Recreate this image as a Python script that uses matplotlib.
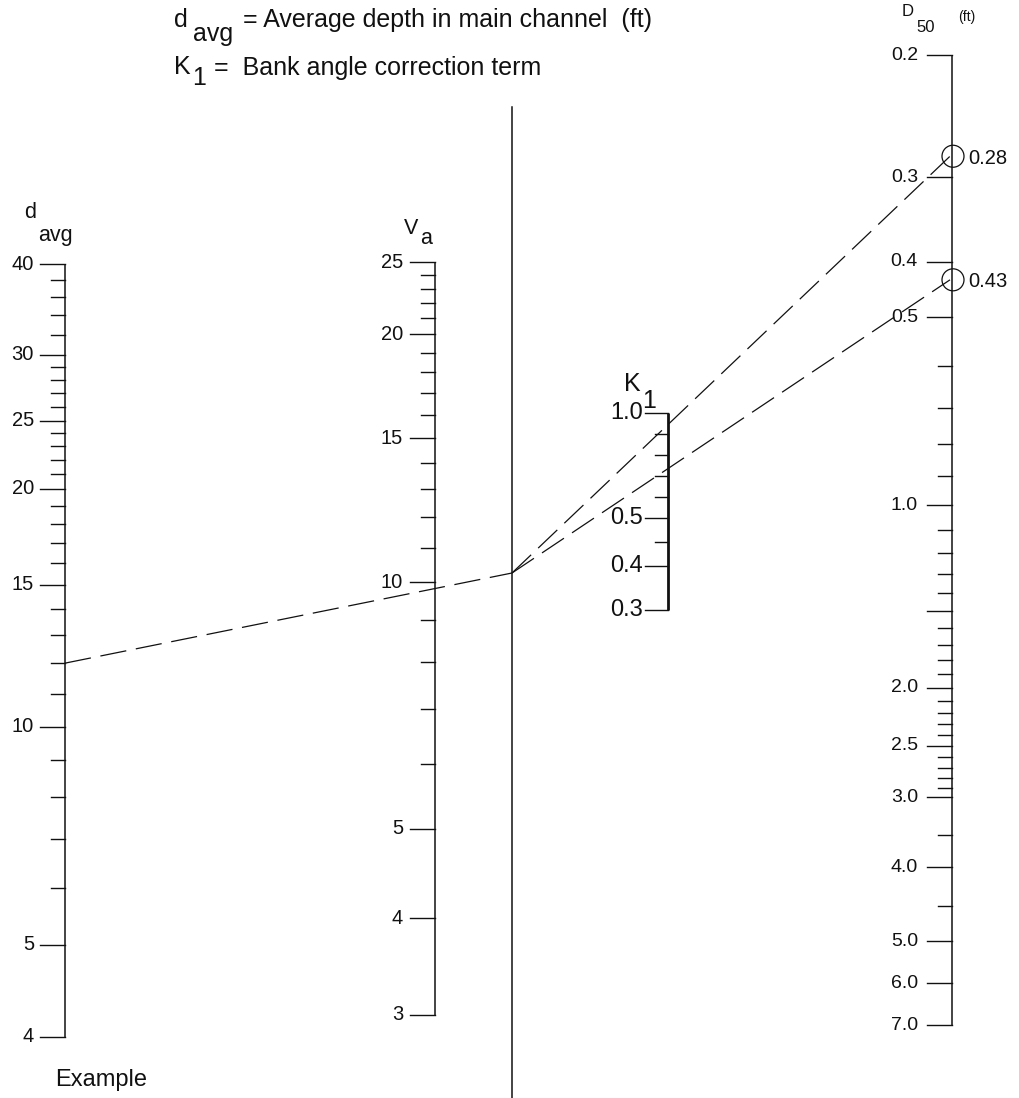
import numpy as np
import matplotlib.pyplot as plt
from matplotlib.patches import Circle

plt.rcParams['font.family'] = ['Liberation Sans', 'DejaVu Sans']
plt.rcParams['lines.scale_dashes'] = False

# --- scale data (values) ---
d_major = [40, 30, 25, 20, 15, 10, 5, 4]
d_minor = [38, 36, 34, 32, 29, 28, 27, 26, 24, 23, 22, 21, 19, 18, 17, 16,
           14, 13, 12, 11, 9, 8, 7, 6]
v_major = [25, 20, 15, 10, 5, 4, 3]
v_minor = [24, 23, 22, 21, 19, 18, 17, 16, 14, 13, 12, 11, 9, 8, 7, 6]
k_major = [1.0, 0.5, 0.4, 0.3]
k_minor = [0.9, 0.8, 0.7, 0.6, 0.45]
D_major = [0.2, 0.3, 0.4, 0.5, 1.0, 1.5, 2.0, 2.5, 3.0, 4.0, 5.0, 6.0, 7.0]
D_labels = ['0.2', '0.3', '0.4', '0.5', '1.0', '', '2.0', '2.5', '3.0', '4.0', '5.0', '6.0', '7.0']
D_minor = [0.6, 0.7, 0.8, 0.9, 1.1, 1.2, 1.3, 1.4, 1.6, 1.7, 1.8, 1.9,
           2.1, 2.2, 2.3, 2.4, 2.6, 2.7, 2.8, 2.9, 3.5, 4.5]

# example solution
ex_d = 12
ex_D50 = [0.28, 0.43]

# --- how each scale is laid out on the sheet (hand-drawn, calibrated) ---
d_pos = [264, 355, 421, 489, 585, 727, 945, 1037]
v_pos = [262, 334, 438, 582, 829, 918, 1015]
k_pos = [413, 518, 566, 610]
D_pos = [55, 177, 262, 317, 505, 611, 688, 746, 797, 867, 941, 983, 1025]
pivot_y = 573


def place(vals, anchors, pos, log=True):
    f = np.log10 if log else (lambda a: np.asarray(a, float))
    a = f(np.asarray(anchors, float))
    p = np.asarray(pos, float)
    order = np.argsort(a)
    return np.interp(f(np.asarray(vals, float)), a[order], p[order])


fig = plt.figure(figsize=(10.2, 10.98), dpi=100)
ax = fig.add_axes([0, 0, 1, 1])
ax.set_xlim(0, 1020)
ax.set_ylim(1098, 0)
ax.axis('off')

col = '#111111'


def draw_scale(x, major, minor, labels, anchors, pos, log=True, lw=1.1,
               fs=14.5, maj_len=25, min_len=14, gap=6):
    ymaj = place(major, anchors, pos, log)
    ymin = place(minor, anchors, pos, log)
    ax.plot([x, x], [ymaj.min(), ymaj.max()], color=col, lw=lw, solid_capstyle='butt')
    for y, lab in zip(ymaj, labels):
        ax.plot([x - maj_len, x], [y, y], color=col, lw=1.0)
        if lab:
            ax.text(x - maj_len - gap, y, lab, ha='right', va='center', fontsize=fs, color=col)
    for y in ymin:
        ax.plot([x - min_len, x], [y, y], color=col, lw=1.0)


draw_scale(65, d_major, d_minor, [str(v) for v in d_major], d_major, d_pos, gap=6)
draw_scale(435, v_major, v_minor, [str(v) for v in v_major], v_major, v_pos, gap=7)
draw_scale(668, k_major, k_minor, ['%.1f' % v for v in k_major], k_major, k_pos,
           log=False, lw=2.0, fs=17, maj_len=23, min_len=13, gap=2)
draw_scale(952, D_major, D_minor, D_labels, D_major, D_pos, fs=14, maj_len=25, min_len=14, gap=9)

# pivot line
ax.plot([512, 512], [107, 1098], color=col, lw=1.1)

# example lines
yd = place([ex_d], d_major, d_pos)[0]
ax.plot([65, 512], [yd, pivot_y], color=col, lw=0.9, dashes=(19, 7))
yD = place(ex_D50, D_major, D_pos)
for y, v in zip(yD, ex_D50):
    ax.plot([512, 950], [pivot_y, y], color=col, lw=0.9, dashes=(19, 7))
    ax.add_patch(Circle((953, y), 11, fill=False, lw=0.9, ec=col))
    ax.text(968, y + 2, '%.2f' % v, ha='left', va='center', fontsize=14.5, color=col)

# axis titles
ax.text(24, 213, 'd', fontsize=15.5, ha='left', va='center', color=col)
ax.text(38, 236, 'avg', fontsize=15.5, ha='left', va='center', color=col)
ax.text(404, 228, 'V', fontsize=15.5, ha='left', va='center', color=col)
ax.text(420, 238, 'a', fontsize=15.5, ha='left', va='center', color=col)
ax.text(624, 384, 'K', fontsize=18, ha='left', va='center', color=col)
ax.text(642, 401, '1', fontsize=18, ha='left', va='center', color=col)
ax.text(902, 11, 'D', fontsize=12, ha='left', va='center', color=col)
ax.text(916, 27, '50', fontsize=12, ha='left', va='center', color=col)
ax.text(958, 17, '(ft)', fontsize=10, ha='left', va='center', color=col)

# header lines
ax.text(174, 20, 'd', fontsize=18, ha='left', va='center', color=col)
ax.text(193, 34, 'avg', fontsize=18, ha='left', va='center', color=col)
ax.text(243, 20, '= Average depth in main channel  (ft)', fontsize=18,
        ha='left', va='center', color=col)
ax.text(174, 67, 'K', fontsize=18, ha='left', va='center', color=col)
ax.text(192, 78, '1', fontsize=18, ha='left', va='center', color=col)
ax.text(214, 68, '=  Bank angle correction term', fontsize=18,
        ha='left', va='center', color=col)

ax.text(55, 1080, 'Example', fontsize=17, ha='left', va='center', color=col)

fig.savefig('out.png', dpi=100)
